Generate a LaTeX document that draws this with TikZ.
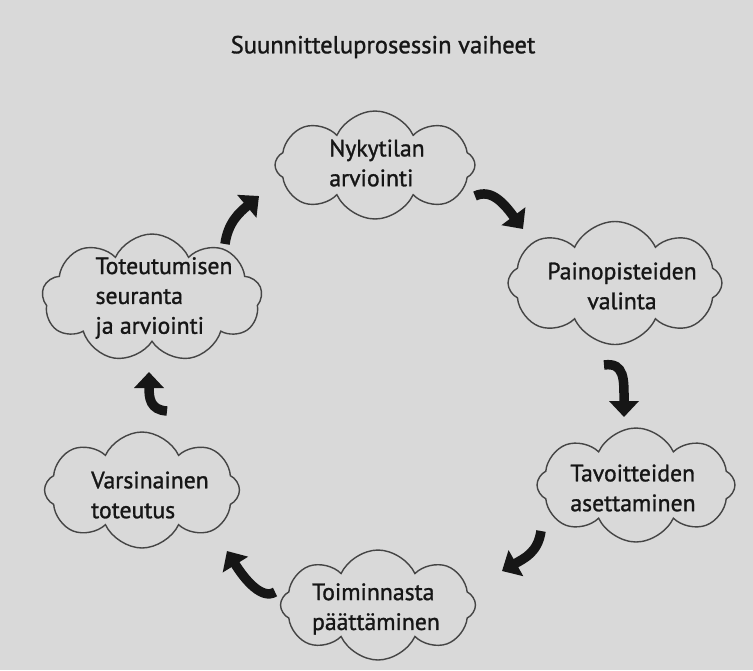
\documentclass[tikz,border=0pt]{standalone}
\usepackage{fontspec}
\setmainfont{PT Sans}
\newfontfamily\inkfont{PT Sans}[BoldFont={PT Sans}, BoldFeatures={FakeBold=1.2}]
\usetikzlibrary{shapes.symbols}
\usetikzlibrary{arrows.meta}
\definecolor{bgcol}{RGB}{217,217,217}
\definecolor{inkcol}{RGB}{22,22,22}
\tikzset{
  phase/.style={draw=inkcol!80, line width=0.8pt, cloud, cloud puffs=8, cloud puff arc=130, cloud ignores aspect, inner sep=0pt},
  txt/.style={align=left, font=\inkfont\bfseries\fontsize{13.5}{17}\selectfont, text=inkcol, inner sep=0pt},
  arr/.style={-{Triangle[width=0.58cm,length=0.32cm]}, line width=0.19cm, draw=inkcol}
}

\begin{document}
\begin{tikzpicture}[x=0.02cm, y=-0.02cm]
    %\draw [help lines, step=50] (0,0) grid (753,670);
    \fill [bgcol] (0,0) rectangle (753,670);
    \useasboundingbox (0,0) rectangle (753,670);
    \node [font=\inkfont\bfseries\fontsize{14}{17}\selectfont, text=inkcol] (title) at (383,47) {Suunnitteluprosessin vaiheet};

    \node [phase, minimum width=4cm, minimum height=2.16cm] (nyky) at (375,165) {};
    \node [phase, minimum width=4.28cm, minimum height=2.46cm] (paino) at (615,283) {};
    \node [phase, minimum width=3.96cm, minimum height=2.28cm] (tavo) at (636,485) {};
    \node [phase, minimum width=3.9cm, minimum height=2.2cm] (toim) at (378,605) {};
    \node [phase, minimum width=3.9cm, minimum height=2.32cm] (vars) at (142,490) {};
    \node [phase, cloud puffs=9, minimum width=4.4cm, minimum height=2.56cm] (tote) at (152,298) {};

    \node [txt] (nyky_t) at (377,163) {Nykytilan\\arviointi};
    \node [txt, align=center] (paino_t) at (622,286) {Painopisteiden\\valinta};
    \node [txt] (tavo_t) at (633,488) {Tavoitteiden\\asettaminen};
    \node [txt] (toim_t) at (376,609) {Toiminnasta\\päättäminen};
    \node [txt] (vars_t) at (150,495) {Varsinainen\\toteutus};
    \node [txt] (tote_t) at (164,298) {Toteutumisen\\seuranta\\ja arviointi};

    \coordinate (a1s) at (225,244);
    \coordinate (a1e) at (259,196);
    \coordinate (a2s) at (475,196);
    \coordinate (a2e) at (523,229);
    \coordinate (a3s) at (604,365);
    \coordinate (a3e) at (624,417);
    \coordinate (a4s) at (541,531);
    \coordinate (a4e) at (502,571);
    \coordinate (a5s) at (275,592);
    \coordinate (a5e) at (227,551);
    \coordinate (a6s) at (167,411);
    \coordinate (a6e) at (149,372);

    \draw [arr] (a1s) .. controls (228,222) and (240,212) .. (a1e);
    \draw [arr] (a2s) .. controls (492,188) and (505,205) .. (a2e);
    \draw [arr] (a3s) .. controls (625,362) and (624,380) .. (a3e);
    \draw [arr] (a4s) .. controls (538,552) and (525,558) .. (a4e);
    \draw [arr] (a5s) .. controls (262,600) and (245,580) .. (a5e);
    \draw [arr] (a6s) .. controls (150,410) and (149,398) .. (a6e);

\end{tikzpicture}
\end{document}
